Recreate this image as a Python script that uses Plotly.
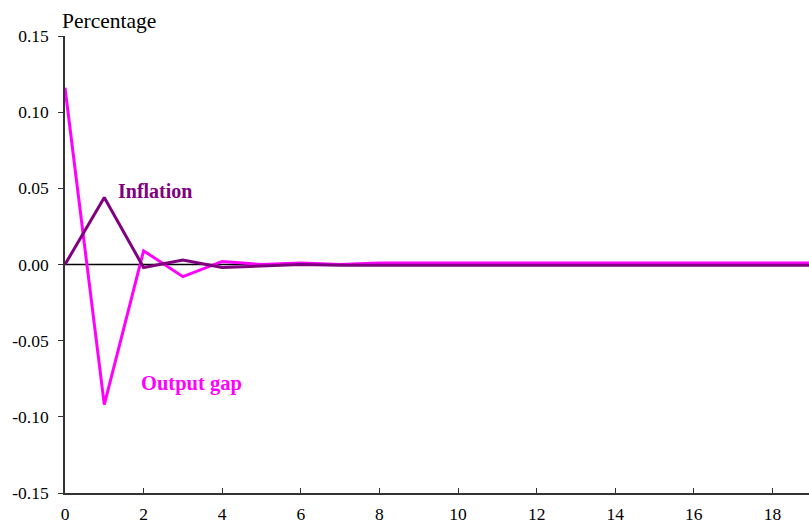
import plotly.graph_objects as go

# Impulse responses by period
periods = list(range(0, 20))
output_gap = [0.116, -0.092, 0.009, -0.008, 0.002, 0.0, 0.001, 0.0, 0.001, 0.001,
              0.001, 0.001, 0.001, 0.001, 0.001, 0.001, 0.001, 0.001, 0.001, 0.001]
inflation = [0.0, 0.044, -0.002, 0.003, -0.002, -0.001, 0.0, -0.0005, -0.0005, -0.0005,
             -0.0005, -0.0005, -0.0005, -0.0005, -0.0005, -0.0005, -0.0005, -0.0005, -0.0005, -0.0005]

y_ticks = [0.15, 0.10, 0.05, 0.0, -0.05, -0.10, -0.15]
y_tick_labels = ["0.15", "0.10", "0.05", "0.00", "-0.05", "-0.10", "-0.15"]
x_ticks = list(range(0, 20, 2))

MAGENTA = "#FF00FF"
PURPLE = "#800080"
FONT = "Liberation Serif"

fig = go.Figure()

# zero reference line
fig.add_trace(go.Scatter(x=[0, 19], y=[0, 0], mode="lines",
                         line=dict(color="black", width=1.5),
                         hoverinfo="skip", showlegend=False))
fig.add_trace(go.Scatter(x=periods, y=output_gap, mode="lines", name="Output gap",
                         line=dict(color=MAGENTA, width=3)))
fig.add_trace(go.Scatter(x=periods, y=inflation, mode="lines", name="Inflation",
                         line=dict(color=PURPLE, width=3)))

fig.add_annotation(x=1.3, y=0.0485, text="<b>Inflation</b>", showarrow=False,
                   xanchor="left", yanchor="middle",
                   font=dict(family=FONT, size=20, color=PURPLE))
fig.add_annotation(x=1.87, y=-0.078, text="<b>Output gap</b>", showarrow=False,
                   xanchor="left", yanchor="middle",
                   font=dict(family=FONT, size=20.5, color=MAGENTA))
fig.add_annotation(x=0, y=1, xref="paper", yref="paper", text="Percentage",
                   showarrow=False, xanchor="left", yanchor="bottom", xshift=-5, yshift=1,
                   font=dict(family=FONT, size=21.5, color="black"))

fig.update_layout(
    width=809, height=527,
    margin=dict(l=65, r=0, t=36, b=34),
    paper_bgcolor="white", plot_bgcolor="white",
    showlegend=False,
    font=dict(family=FONT, size=17.5, color="black"),
    xaxis=dict(range=[0, 18.93], tickvals=x_ticks, showgrid=False, zeroline=False,
               showline=True, linecolor="#333", linewidth=1.5,
               ticks="inside", ticklen=5, tickcolor="#333", ticklabelstandoff=4),
    yaxis=dict(range=[-0.15, 0.15], tickvals=y_ticks, ticktext=y_tick_labels,
               showgrid=False, zeroline=False,
               showline=True, linecolor="#333", linewidth=1.5,
               ticks="outside", ticklen=5, tickcolor="#333", ticklabelstandoff=6),
)

fig.write_html("out.html")
